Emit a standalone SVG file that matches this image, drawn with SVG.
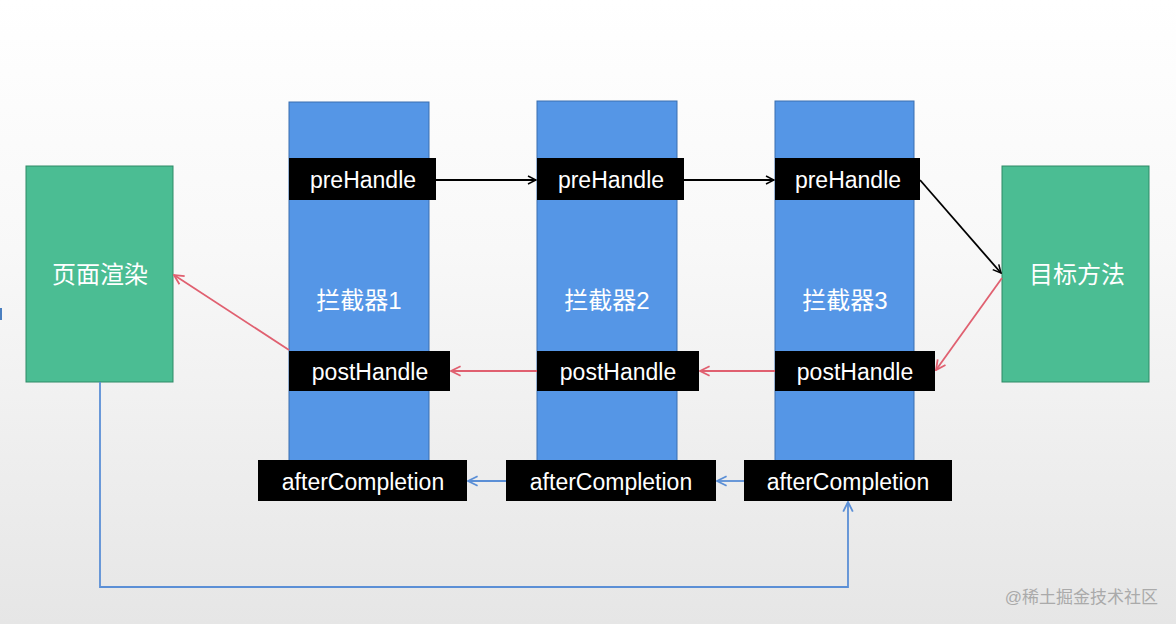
<svg xmlns="http://www.w3.org/2000/svg" width="1176" height="624" viewBox="0 0 1176 624">
<defs>
<linearGradient id="bg" x1="0" y1="0" x2="0" y2="1"><stop offset="0" stop-color="#ffffff"/><stop offset="0.4" stop-color="#f8f8f8"/><stop offset="1" stop-color="#e6e6e6"/></linearGradient>
<marker id="ak" viewBox="0 0 10 10" refX="9" refY="5" markerWidth="10" markerHeight="10" markerUnits="userSpaceOnUse" orient="auto"><path d="M1,1 L9,5 L1,9" fill="none" stroke="#000" stroke-width="1.5"/></marker>
<marker id="ar" viewBox="0 0 10 10" refX="9" refY="5" markerWidth="12" markerHeight="12" markerUnits="userSpaceOnUse" orient="auto"><path d="M1,1 L9,5 L1,9" fill="none" stroke="#e06070" stroke-width="1.5"/></marker>
<marker id="ab" viewBox="0 0 10 10" refX="9" refY="5" markerWidth="12" markerHeight="12" markerUnits="userSpaceOnUse" orient="auto"><path d="M1,1 L9,5 L1,9" fill="none" stroke="#5b8fd6" stroke-width="1.5"/></marker>
</defs>
<style>
.col{fill:#5596e6;stroke:#3a6fb0;stroke-width:1}
.grn{fill:#4bbd93;stroke:#2e8a66;stroke-width:1}
.lbl{fill:#000}
.t{font-family:"Liberation Sans",Arial,sans-serif;font-size:23px;fill:#fff;text-anchor:middle}
.c{font-family:"Liberation Sans","Noto Sans CJK SC",sans-serif;font-size:24px;fill:#fff;text-anchor:middle}
</style>
<rect width="1176" height="624" fill="url(#bg)"/>
<rect x="0" y="308" width="2" height="12" fill="#4a7fc0"/>
<g id="render"><rect class="grn" x="26" y="166" width="147" height="216"/><text class="c" x="100" y="283">页面渲染</text></g>
<g id="target"><rect class="grn" x="1002" y="166" width="147" height="216"/><text class="c" x="1077" y="283">目标方法</text></g>
<g id="i1"><rect class="col" x="289" y="102" width="140" height="398"/><text class="c" x="359" y="309">拦截器1</text>
<rect class="lbl" x="289" y="158" width="147" height="42"/><text class="t" x="363" y="188">preHandle</text>
<rect class="lbl" x="289" y="351" width="161" height="40"/><text class="t" x="370" y="380">postHandle</text>
<rect class="lbl" x="258" y="460" width="209" height="41"/><text class="t" x="363" y="490">afterCompletion</text></g>
<g id="i2"><rect class="col" x="537" y="101" width="140" height="399"/><text class="c" x="607" y="309">拦截器2</text>
<rect class="lbl" x="537" y="158" width="147" height="42"/><text class="t" x="611" y="188">preHandle</text>
<rect class="lbl" x="537" y="351" width="162" height="40"/><text class="t" x="618" y="380">postHandle</text>
<rect class="lbl" x="506" y="460" width="210" height="41"/><text class="t" x="611" y="490">afterCompletion</text></g>
<g id="i3"><rect class="col" x="775" y="101" width="139" height="399"/><text class="c" x="845" y="309">拦截器3</text>
<rect class="lbl" x="775" y="158" width="145" height="42"/><text class="t" x="848" y="188">preHandle</text>
<rect class="lbl" x="775" y="351" width="160" height="40"/><text class="t" x="855" y="380">postHandle</text>
<rect class="lbl" x="744" y="460" width="208" height="41"/><text class="t" x="848" y="490">afterCompletion</text></g>
<g id="connectors" fill="none" stroke-width="1.8">
<line x1="436" y1="180" x2="536" y2="180" stroke="#000" marker-end="url(#ak)"/>
<line x1="684" y1="180" x2="774" y2="180" stroke="#000" marker-end="url(#ak)"/>
<line x1="920" y1="180" x2="1001" y2="273" stroke="#000" marker-end="url(#ak)"/>
<line x1="1002" y1="278" x2="936" y2="370" stroke="#e06070" marker-end="url(#ar)"/>
<line x1="775" y1="371" x2="700" y2="371" stroke="#e06070" marker-end="url(#ar)"/>
<line x1="537" y1="371" x2="451" y2="371" stroke="#e06070" marker-end="url(#ar)"/>
<line x1="289" y1="350" x2="174" y2="275" stroke="#e06070" marker-end="url(#ar)"/>
<line x1="744" y1="481" x2="717" y2="481" stroke="#5b8fd6" marker-end="url(#ab)"/>
<line x1="506" y1="481" x2="468" y2="481" stroke="#5b8fd6" marker-end="url(#ab)"/>
<polyline points="100,382 100,587 848,587 848,502" stroke="#5b8fd6" marker-end="url(#ab)"/>
</g>
<text x="1158" y="603" font-family="'Liberation Sans','Noto Sans CJK SC',sans-serif" font-size="17" fill="#aaaaaa" text-anchor="end">@稀土掘金技术社区</text>
</svg>
